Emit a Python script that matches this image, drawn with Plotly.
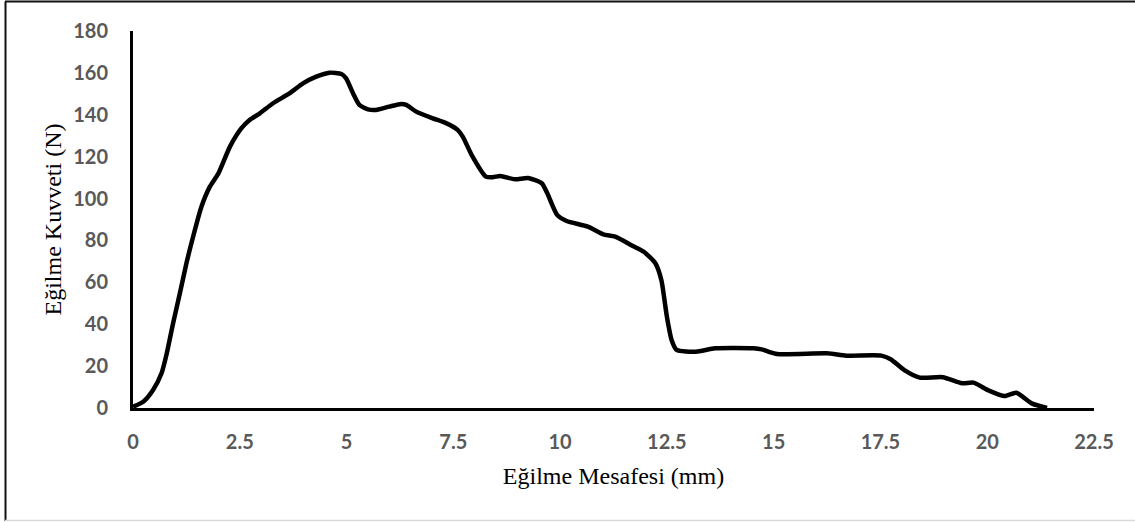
import plotly.graph_objects as go

# Data
distance_mm = [0, 0.24, 0.47, 0.67, 0.79, 0.94, 1.1, 1.25, 1.41, 1.6, 1.8, 2.0, 2.27, 2.54, 2.73,
               2.97, 3.28, 3.67, 3.98, 4.29, 4.6, 4.88, 4.99, 5.15, 5.3, 5.5, 5.69, 6.0, 6.28, 6.4,
               6.63, 7.02, 7.33, 7.6, 7.72, 7.95, 8.26, 8.42, 8.6, 8.94, 9.25, 9.57, 9.7, 9.93,
               10.15, 10.65, 11.01, 11.29, 11.69, 11.96, 12.23, 12.37, 12.5, 12.61, 12.73, 13.18,
               13.63, 14.53, 14.72, 15.08, 16.25, 16.7, 17.52, 17.74, 18.06, 18.42, 18.96, 19.41,
               19.68, 20.04, 20.41, 20.68, 21.04, 21.4]
force_n = [0.6, 3, 8.6, 16.7, 26, 40.6, 55, 69, 82, 96, 105.7, 112, 124.8, 133.6, 137.5,
           140.7, 145.5, 150.3, 155, 158.2, 160.1, 159.5, 157.4, 150.3, 144.7, 142.6, 142.3, 143.9,
           145.2, 144.7, 141.5, 138.3, 136, 132.8, 129.6, 120, 110.5, 110.2, 110.8, 109.2, 109.8,
           107.3, 102.5, 92.2, 89.3, 86.6, 82.9, 81.8, 77.5, 74.6, 69.1, 61.1, 43.6, 32.5, 27.7,
           26.9, 28.5, 28.5, 28, 25.8, 26.1, 25, 25, 23.3, 18.1, 14.5, 14.7, 11.8, 12.1, 8.3,
           5.7, 7.3, 2.2, 0]

x_ticks = [0, 2.5, 5, 7.5, 10, 12.5, 15, 17.5, 20, 22.5]
x_tick_labels = ["0", "2.5", "5", "7.5", "10", "12.5", "15", "17.5", "20", "22.5"]
y_ticks = [0, 20, 40, 60, 80, 100, 120, 140, 160, 180]

x_title = "Eğilme Mesafesi (mm)"
y_title = "Eğilme Kuvveti (N)"

W, H = 1135, 522
L, R, T, B = 133, 41, 31, 114
pw = W - L - R
ph = H - T - B

fig = go.Figure()
fig.add_trace(go.Scatter(
    x=distance_mm, y=force_n, mode="lines",
    line=dict(color="black", width=4.5, shape="spline", smoothing=0.6),
    showlegend=False, hoverinfo="skip"
))

tick_font = dict(family="Lato, 'Open Sans', sans-serif", size=20, color="#595959", weight="bold")
title_font = dict(family="'Liberation Serif', 'Times New Roman', serif", size=24, color="black")

fig.update_layout(
    width=W, height=H,
    margin=dict(l=L, r=R, t=T, b=B),
    paper_bgcolor="white", plot_bgcolor="white",
    xaxis=dict(range=[0, 22.5], tickvals=x_ticks, ticktext=x_tick_labels,
               showgrid=False, zeroline=False, showline=True, linecolor="black", linewidth=3,
               ticks="", tickfont=tick_font, ticklabelstandoff=14,
               title=dict(text=x_title, font=title_font, standoff=16)),
    yaxis=dict(range=[0, 180], tickvals=y_ticks,
               showgrid=False, zeroline=False, showline=True, linecolor="black", linewidth=3,
               ticks="", tickfont=tick_font, ticklabelstandoff=18,
               title=dict(text=y_title, font=title_font, standoff=5)),
)

# Outer frame lines (left & top dark, bottom light gray)
def px_x(p):
    return (p - L) / pw

def px_y(p):
    return (H - B - p) / ph

fig.add_shape(type="line", xref="paper", yref="paper",
              x0=px_x(5.5), x1=px_x(5.5), y0=px_y(1.5), y1=px_y(521),
              line=dict(color="#111111", width=2))
fig.add_shape(type="line", xref="paper", yref="paper",
              x0=px_x(5), x1=px_x(1135), y0=px_y(1.5), y1=px_y(1.5),
              line=dict(color="#111111", width=2))
fig.add_shape(type="line", xref="paper", yref="paper",
              x0=px_x(5), x1=px_x(1135), y0=px_y(520.5), y1=px_y(520.5),
              line=dict(color="#d9d9d9", width=1.5))

fig.write_html("out.html", config={"displayModeBar": False},
               post_script="document.body.style.margin='0';document.body.style.overflow='hidden';")
